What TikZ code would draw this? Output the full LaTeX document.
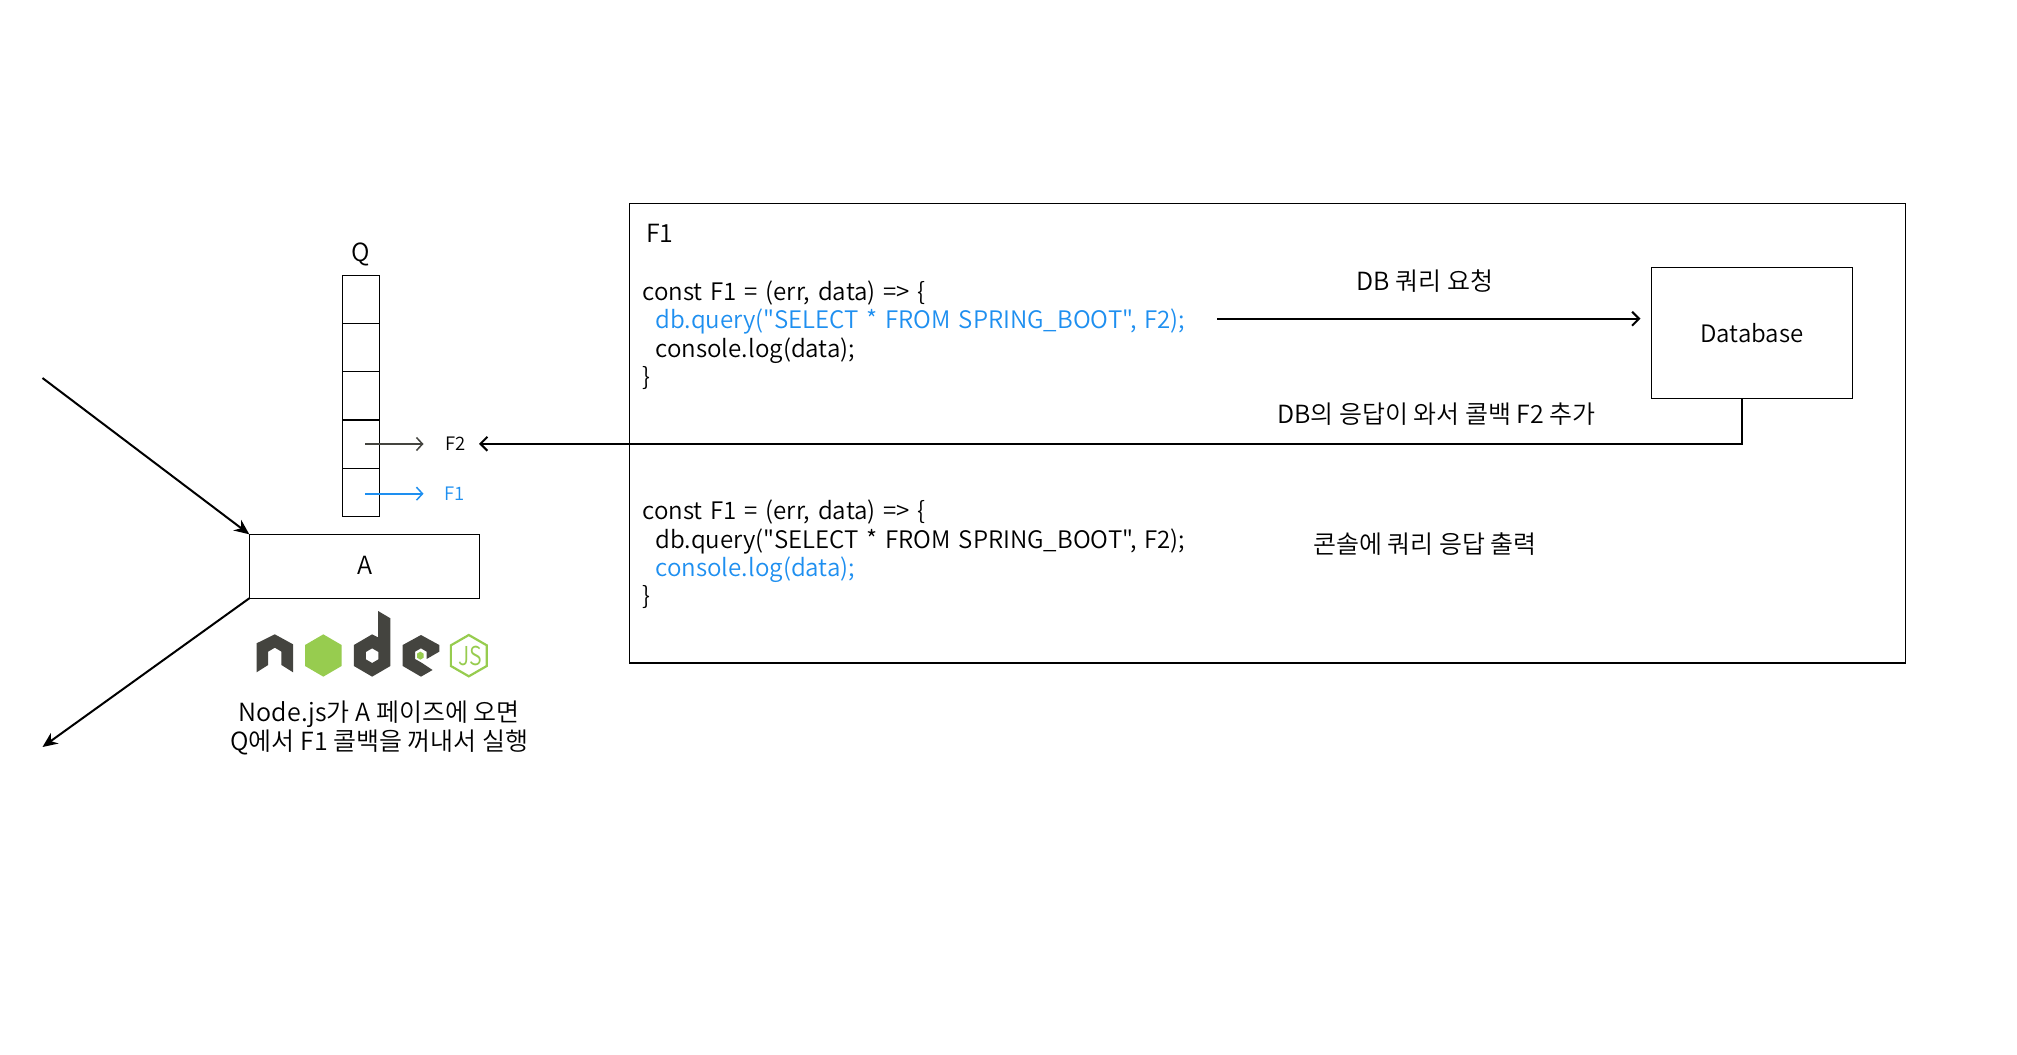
\documentclass[tikz,border=0pt]{standalone}
\usepackage{fontspec}
\setmainfont{Noto Sans CJK KR}[UprightFont=* DemiLight]
\newfontfamily\codefont{Noto Sans CJK KR}[UprightFont=* DemiLight,WordSpace=1.45]
\usetikzlibrary{arrows.meta}
\definecolor{hl}{HTML}{1E8FF0}
\definecolor{nodedark}{HTML}{44443F}
\definecolor{nodegreen}{HTML}{97CC4F}
\tikzset{
  x=1pt,y=-1pt,
  txt/.style={inner sep=0pt,outer sep=0pt,font=\fontsize{25}{29}\selectfont,text=black},
  small/.style={inner sep=0pt,outer sep=0pt,font=\fontsize{18.5}{22}\selectfont},
  codeline/.style={inner sep=0pt,outer sep=0pt,font=\codefont\fontsize{24.1}{28}\selectfont,text=black,anchor=base west},
  boxed/.style={draw=black,line width=1.4pt,inner sep=0pt,outer sep=0pt,anchor=center},
  link/.style={draw=black,line width=2pt,-{Straight Barb[length=7pt,width=14pt,line width=2pt]}},
  thinlink/.style={line width=1.6pt,-{Straight Barb[length=6pt,width=13pt,line width=1.5pt]}},
  heavy/.style={draw=black,line width=2pt,-{Stealth[length=15pt,width=13pt]}},
}
\begin{document}
\begin{tikzpicture}
\useasboundingbox[fill=white] (0,0) rectangle (2017,1054);
% outer box
\node[boxed,minimum width=1275.5pt,minimum height=459.5pt] (outer) at (1267.5,433.2) {};
\node[txt,anchor=base west] (f1title) at (646,242.5) {F1};
% upper code
\node[codeline] (u1) at (642.5,300.5) {const F1 = (err, data) => \{};
\node[codeline,text=hl] (u2) at (655.5,328.8) {db.query("SELECT * FROM SPRING\_BOOT", F2);};
\node[codeline] (u3) at (655.5,357) {console.log(data);};
\node[codeline] (u4) at (642.5,385) {\}};
% lower code
\node[codeline] (l1) at (642.5,519.7) {const F1 = (err, data) => \{};
\node[codeline] (l2) at (655.5,548) {db.query("SELECT * FROM SPRING\_BOOT", F2);};
\node[codeline,text=hl] (l3) at (655.5,576.3) {console.log(data);};
\node[codeline] (l4) at (642.5,604) {\}};
% database
\node[boxed,minimum width=200.5pt,minimum height=131pt] (db) at (1752,332.8) {};
\node[txt,font=\fontsize{24}{28}\selectfont] (dbtext) at (db.center) {Database};
\node[txt] (reqlabel) at (1425,281.5) {DB 쿼리 요청};
\node[txt] (resplabel) at (1436.5,414) {DB의 응답이 와서 콜백 F2 추가};
\node[txt] (conslabel) at (1425,543.7) {콘솔에 쿼리 응답 출력};
% queue
\node[txt] (qlabel) at (360.5,254) {Q};
\foreach \n/\y in {1/299.3,2/347.5,3/395.8,4/444.3,5/492.3}
  \node[boxed,minimum width=37pt,minimum height=48.2pt] (q\n) at (360.8,\y) {};
% page A
\node[boxed,minimum width=230pt,minimum height=64pt] (a) at (364.3,566.3) {};
\node[txt] (atext) at ([xshift=1pt,yshift=1.3pt]a.center) {A};
% callback labels
\node[small] (f2label) at (455.5,444) {F2};
\node[small,text=hl] (f1label) at (454.5,493.7) {F1};
\coordinate (f2start) at (365,444);
\coordinate (f1start) at (365,493.7);
\coordinate (f2tip) at (423.5,444);
\coordinate (f1tip) at (423.5,493.7);
\draw[thinlink,draw=nodedark] (f2start) -- (f2tip);
\draw[thinlink,draw=hl] (f1start) -- (f1tip);
% connectors
\coordinate (qstart) at (1217,318.7);
\coordinate (qend) at (1640.5,318.7);
\draw[link] (qstart) -- (qend);
\coordinate (dbout) at (1741.8,398.3);
\coordinate (ret) at (479,443.8);
\draw[link] (dbout) |- (ret);
\coordinate (inflow) at (42.5,378);
\coordinate (outflow) at (42.5,747);
\draw[heavy] (inflow) -- (a.north west);
\draw[heavy] (a.south west) -- (outflow);
% logo
\begin{scope}[shift={(220,580)},x=0.3322pt,y=-0.3333pt]
 \fill[nodedark] (110,190)--(165,163)--(220,193)--(220,277)--(185,255)--(185,215)--(165,203)--(145,215)--(145,255)--(110,277)--cycle;
 \fill[nodegreen] (311,163)--(366,195)--(366,258)--(311,290)--(256,258)--(256,195)--cycle;
 \fill[nodedark,even odd rule] (476,93)--(513,115)--(513,258)--(458,290)--(403,258)--(403,195)--(458,163)--(476,172)--cycle
   (458,205)--(477,216)--(477,238)--(458,249)--(439,238)--(439,216)--cycle;
 \fill[nodedark] (605,165)--(660,195)--(660,215)--(622,237)--(622,215)--(605,205)--(587,215)--(587,237)--(605,247)--(640,270)--(605,290)--(550,258)--(550,195)--cycle;
 \fill[nodegreen] (603,215)--(613,221)--(613,233)--(603,239)--(593,233)--(593,221)--cycle;
 \draw[nodegreen,line width=2.2pt] (749,165)--(803,196)--(803,258)--(749,289)--(695,258)--(695,196)--cycle;
 \node[inner sep=0pt,text=nodegreen,font=\fontsize{26}{26}\selectfont] (js) at (753,229) {\scalebox{.82}[1]{JS}};
\end{scope}
% caption
\node[txt,align=center] (cap1) at (379.3,714) {Node.js가 A 페이즈에 오면};
\node[txt,align=center] (cap2) at (379.5,742.5) {Q에서 F1 콜백을 꺼내서 실행};
\end{tikzpicture}
\end{document}
